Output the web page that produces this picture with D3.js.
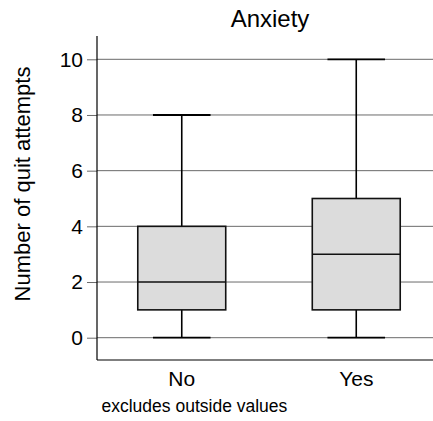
<!DOCTYPE html>
<html>
<head>
<meta charset="utf-8">
<script src="https://cdn.jsdelivr.net/npm/d3@7"></script>
<style>
  body { margin: 0; background: #fff; }
  svg { display: block; font-family: "Liberation Sans", Arial, Helvetica, sans-serif; }
</style>
</head>
<body>
<svg id="chart" width="433" height="421"></svg>
<script>
// Box plot summaries of quit attempts by anxiety status
const categories = ["No", "Yes"];
const lowerWhisker = [0, 0];
const q1 = [1, 1];
const median = [2, 3];
const q3 = [4, 5];
const upperWhisker = [8, 10];
const yTicks = [0, 2, 4, 6, 8, 10];

const title = "Anxiety";
const yLabel = "Number of quit attempts";
const note = "excludes outside values";

const W = 433, H = 421;
const plot = { left: 97, top: 36, bottom: 360 };

const svg = d3.select("#chart");

const y = d3.scaleLinear().domain([0, 10]).range([337.7, 59.3]);
const x = d3.scaleBand().domain(categories).range([94.5, 443.5]).padding(0);
const boxW = x.bandwidth() * 0.504;
const capW = x.bandwidth() * 0.33;

// horizontal grid lines
svg.append("g")
  .selectAll("line")
  .data(yTicks)
  .join("line")
  .attr("x1", plot.left).attr("x2", W)
  .attr("y1", d => y(d)).attr("y2", d => y(d))
  .attr("stroke", "#6a6a6a").attr("stroke-width", 1);

// left axis
const yAxis = d3.axisLeft(y).tickValues(yTicks).tickSize(10).tickPadding(4).tickSizeOuter(0);
const gy = svg.append("g").attr("transform", `translate(${plot.left},0)`).call(yAxis);
gy.select(".domain").remove();
gy.selectAll(".tick line").attr("stroke", "#6a6a6a");
gy.selectAll(".tick text").attr("font-size", 21).attr("fill", "#000")
  .attr("font-family", "'Liberation Sans', Arial, sans-serif");

// frame lines (left and bottom)
svg.append("line").attr("x1", plot.left).attr("x2", plot.left)
  .attr("y1", plot.top).attr("y2", plot.bottom).attr("stroke", "#000").attr("stroke-width", 1.2);
svg.append("line").attr("x1", plot.left).attr("x2", W)
  .attr("y1", plot.bottom).attr("y2", plot.bottom).attr("stroke", "#000").attr("stroke-width", 1.2);

// category labels
const xAxis = d3.axisBottom(x).tickSize(0).tickPadding(11);
const gx = svg.append("g").attr("transform", `translate(0,${plot.bottom})`).call(xAxis);
gx.select(".domain").remove();
gx.selectAll(".tick text").attr("font-size", 21).attr("fill", "#000")
  .attr("font-family", "'Liberation Sans', Arial, sans-serif");

// boxes
const rows = categories.map((c, i) => ({
  c, lo: lowerWhisker[i], q1: q1[i], med: median[i], q3: q3[i], hi: upperWhisker[i]
}));

const g = svg.append("g");
rows.forEach(r => {
  const cx = x(r.c) + x.bandwidth() / 2;
  // whiskers
  g.append("line").attr("x1", cx).attr("x2", cx).attr("y1", y(r.q3)).attr("y2", y(r.hi))
    .attr("stroke", "#000").attr("stroke-width", 1.6);
  g.append("line").attr("x1", cx).attr("x2", cx).attr("y1", y(r.q1)).attr("y2", y(r.lo))
    .attr("stroke", "#000").attr("stroke-width", 1.6);
  // caps
  [r.lo, r.hi].forEach(v => {
    g.append("line").attr("x1", cx - capW / 2).attr("x2", cx + capW / 2)
      .attr("y1", y(v)).attr("y2", y(v)).attr("stroke", "#000").attr("stroke-width", 1.8);
  });
  // box
  g.append("rect").attr("x", cx - boxW / 2).attr("width", boxW)
    .attr("y", y(r.q3)).attr("height", y(r.q1) - y(r.q3))
    .attr("fill", "#dcdcdc").attr("stroke", "#111").attr("stroke-width", 1.6);
  // median
  g.append("line").attr("x1", cx - boxW / 2).attr("x2", cx + boxW / 2)
    .attr("y1", y(r.med)).attr("y2", y(r.med)).attr("stroke", "#111").attr("stroke-width", 1.6);
});

// title
svg.append("text").attr("x", 270).attr("y", 27).attr("text-anchor", "middle")
  .attr("font-size", 24).attr("fill", "#000").text(title);

// y axis title
svg.append("text").attr("transform", "translate(30,184) rotate(-90)")
  .attr("text-anchor", "middle").attr("font-size", 22).attr("fill", "#000").text(yLabel);

// note
svg.append("text").attr("x", 101.5).attr("y", 412)
  .attr("font-size", 17.5).attr("fill", "#000").text(note);
</script>
</body>
</html>
